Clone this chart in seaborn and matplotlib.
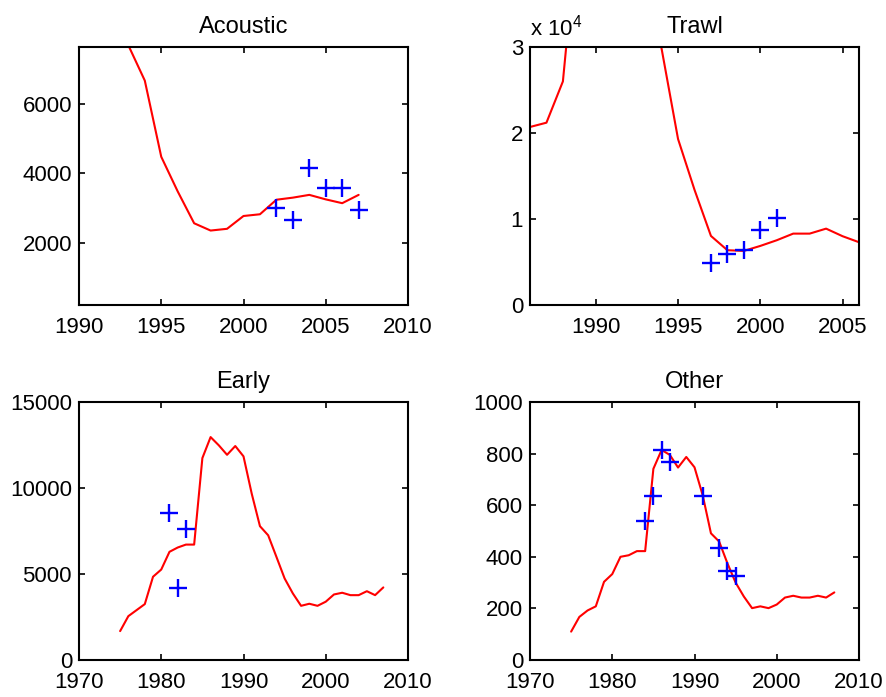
import seaborn as sns
import matplotlib
matplotlib.use("Agg")
import matplotlib.pyplot as plt
from matplotlib.ticker import FuncFormatter

# 数据
acoustic_years = [1993, 1994, 1995, 1996, 1997, 1998, 1999, 2000, 2001, 2002, 2003, 2004, 2005, 2006, 2007]
acoustic_model = [7700, 6680, 4480, 3480, 2560, 2350, 2400, 2770, 2820, 3240, 3300, 3380, 3250, 3140, 3380]
acoustic_obs_years = [2002, 2003, 2004, 2005, 2006, 2007]
acoustic_obs = [3000, 2660, 4160, 3590, 3590, 2930]

trawl_years = [1986, 1987, 1988, 1989, 1990, 1991, 1992, 1993, 1994, 1995, 1996, 1997, 1998,
               1999, 2000, 2001, 2002, 2003, 2004, 2005, 2006]
trawl_model = [20700, 21200, 26000, 46000, 50000, 50000, 45000, 40000, 29800, 19300, 13400,
               8030, 6370, 6290, 6870, 7530, 8300, 8300, 8880, 8000, 7300]
trawl_obs_years = [1997, 1998, 1999, 2000, 2001]
trawl_obs = [4900, 5980, 6370, 8760, 10100]

early_years = list(range(1975, 2008))
early_model = [1680, 2550, 2900, 3250, 4840, 5260, 6290, 6540, 6710, 6710, 11740, 12960,
               12480, 11930, 12440, 11840, 9670, 7780, 7250, 6000, 4740, 3870, 3150, 3270,
               3150, 3390, 3810, 3910, 3770, 3770, 4000, 3770, 4220]
early_obs_years = [1981, 1982, 1983]
early_obs = [8570, 4200, 7640]

other_years = list(range(1975, 2008))
other_model = [110, 167, 192, 208, 303, 333, 400, 406, 422, 422, 741, 814, 795, 746, 787,
               747, 638, 491, 459, 375, 300, 246, 201, 208, 201, 215, 242, 249, 242, 242,
               249, 242, 262]
other_obs_years = [1984, 1985, 1986, 1987, 1991, 1993, 1994, 1995]
other_obs = [538, 636, 814, 767, 635, 436, 344, 324]

sns.set_style("white")
plt.rcParams['font.family'] = ['Liberation Sans', 'DejaVu Sans']
plt.rcParams['mathtext.fontset'] = 'custom'
plt.rcParams['mathtext.rm'] = 'Liberation Sans'
plt.rcParams['text.color'] = 'black'

fig = plt.figure(figsize=(8.87, 6.97), dpi=100)
W, H = 887, 697


def make_ax(left, top, width=329, height=258):
    return fig.add_axes([left / W, 1 - (top + height) / H, width / W, height / H])


def draw(ax, yrs, model, obs_yrs, obs, title):
    sns.lineplot(x=yrs, y=model, ax=ax, color="red", linewidth=1.5)
    sns.scatterplot(x=obs_yrs, y=obs, ax=ax, marker="+", s=170, color="blue",
                    linewidth=1.7, zorder=3)
    ax.set_title(title, fontsize=17, pad=10, color="black")
    ax.tick_params(direction="in", length=4, width=1.2, top=True, right=True,
                   bottom=True, left=True, labelsize=16, color="black",
                   labelcolor="black")
    ax.tick_params(axis="x", pad=9)
    ax.tick_params(axis="y", pad=5)
    for s in ax.spines.values():
        s.set_linewidth(1.5)
        s.set_color("black")


ax1 = make_ax(79, 47)
draw(ax1, acoustic_years, acoustic_model, acoustic_obs_years, acoustic_obs, "Acoustic")
ax1.set_xlim(1990, 2010)
ax1.set_xticks([1990, 1995, 2000, 2005, 2010])
ax1.set_ylim(200, 7650)
ax1.set_yticks([2000, 4000, 6000])

ax2 = make_ax(530, 47)
draw(ax2, trawl_years, trawl_model, trawl_obs_years, trawl_obs, "Trawl")
ax2.set_xlim(1986, 2006)
ax2.set_xticks([1990, 1995, 2000, 2005])
ax2.set_ylim(0, 30000)
ax2.set_yticks([0, 10000, 20000, 30000])
ax2.yaxis.set_major_formatter(FuncFormatter(lambda v, p: f"{v / 1e4:g}"))
ax2.text(0, 1.045, r"x 10$^{4}$", transform=ax2.transAxes, fontsize=16,
         ha="left", va="baseline")

ax3 = make_ax(79, 402)
draw(ax3, early_years, early_model, early_obs_years, early_obs, "Early")
ax3.set_xlim(1970, 2010)
ax3.set_xticks([1970, 1980, 1990, 2000, 2010])
ax3.set_ylim(0, 15000)
ax3.set_yticks([0, 5000, 10000, 15000])

ax4 = make_ax(530, 402)
draw(ax4, other_years, other_model, other_obs_years, other_obs, "Other")
ax4.set_xlim(1970, 2010)
ax4.set_xticks([1970, 1980, 1990, 2000, 2010])
ax4.set_ylim(0, 1000)
ax4.set_yticks([0, 200, 400, 600, 800, 1000])

fig.savefig("out.png", dpi=100)
